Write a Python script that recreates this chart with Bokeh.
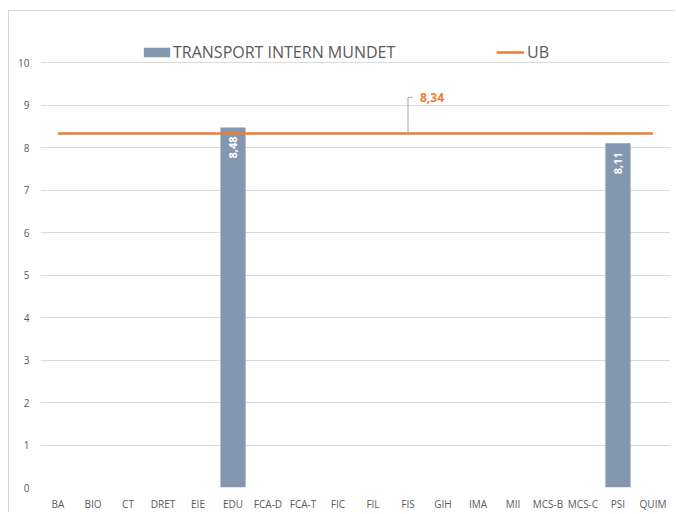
import math
from bokeh.plotting import figure
from bokeh.models import (ColumnDataSource, FactorRange, Range1d, Legend, LegendItem,
                          FixedTicker)
from bokeh.transform import dodge
from bokeh.core.properties import value
from bokeh.embed import file_html
from bokeh.resources import INLINE

# ---- data ----
categories = ["BA", "BIO", "CT", "DRET", "EIE", "EDU", "FCA-D", "FCA-T", "FIC",
              "FIL", "FIS", "GIH", "IMA", "MII", "MCS-B", "MCS-C", "PSI", "QUIM"]
transport_values = [None, None, None, None, None, 8.48, None, None, None,
                    None, None, None, None, None, None, None, 8.11, None]
ub_value = 8.34
series_bar = "TRANSPORT INTERN MUNDET"
series_line = "UB"
y_ticks = [0, 1, 2, 3, 4, 5, 6, 7, 8, 9, 10]
callout_category = "FIS"

BAR = "#8497B0"
ORANGE = "#ED7D31"
GRID = "#D9D9D9"
TXT = "#595959"
FONT = "Open Sans"

def fmt(v):
    return f"{v:.2f}".replace(".", ",")

bar_x = [c for c, v in zip(categories, transport_values) if v is not None]
bar_top = [v for v in transport_values if v is not None]
bar_src = ColumnDataSource(dict(x=bar_x, top=bar_top, label=[fmt(v) for v in bar_top]))
line_src = ColumnDataSource(dict(x=categories, y=[ub_value] * len(categories)))

# y range extends above 10 to leave room for the legend inside the frame
p = figure(x_range=FactorRange(*categories), y_range=Range1d(0, 11),
           width=667, height=502, output_backend="svg", toolbar_location=None,
           min_border_left=31, min_border_right=6, min_border_top=9, min_border_bottom=24)
p.outline_line_color = None
p.styles = {"margin-left": "8px", "margin-top": "10px",
            "border-left": "1px solid #d9d9d9", "border-top": "1px solid #d9d9d9"}

bars = p.vbar(x="x", top="top", width=0.72, source=bar_src, fill_color=BAR, line_color=None)
ubline = p.line(x="x", y="y", source=line_src, line_color=ORANGE, line_width=2.5)

# labels inside bars
p.text(x="x", y="top", text="label", source=bar_src, angle=math.pi / 2,
       text_align="right", text_baseline="middle", y_offset=9,
       text_color="white", text_font=value(FONT), text_font_style="bold",
       text_font_size="11px")

# callout for UB
lead_top = ub_value + 0.85
lead_src = ColumnDataSource(dict(x=[callout_category], y0=[ub_value], y1=[lead_top],
                                 label=[fmt(ub_value)]))
p.segment(x0="x", y0="y0", x1="x", y1="y1", source=lead_src, line_color="#A6A6A6", line_width=1)
p.segment(x0="x", y0="y1", x1=dodge("x", 0.14, range=p.x_range), y1="y1", source=lead_src,
          line_color="#A6A6A6", line_width=1)
p.text(x="x", y="y1", text="label", source=lead_src, x_offset=12,
       text_align="left", text_baseline="middle", text_color=ORANGE,
       text_font=value(FONT), text_font_style="bold", text_font_size="12px")

# axes
p.xgrid.grid_line_color = None
p.ygrid.grid_line_color = GRID
p.yaxis.ticker = FixedTicker(ticks=y_ticks)
for ax in (p.xaxis[0], p.yaxis[0]):
    ax.axis_line_color = None
    ax.major_tick_line_color = None
    ax.minor_tick_line_color = None
    ax.major_tick_out = 0
    ax.major_tick_in = 0
    ax.major_label_text_font = FONT
    ax.major_label_text_font_size = "10px"
    ax.major_label_text_color = TXT
p.yaxis.major_label_standoff = 11
p.xaxis.major_label_standoff = 9

# legends
leg1 = Legend(items=[LegendItem(label=series_bar, renderers=[bars])],
              location=(100, 424), orientation="horizontal",
              glyph_width=33, glyph_height=12, label_standoff=-2,
              label_text_font=FONT, label_text_font_size="16px", label_text_color=TXT,
              label_height=12, padding=0, margin=0, border_line_color=None,
              background_fill_alpha=0)
leg2 = Legend(items=[LegendItem(label=series_line, renderers=[ubline])],
              location=(456, 424), orientation="horizontal",
              glyph_width=28, glyph_height=12, label_standoff=3,
              label_text_font=FONT, label_text_font_size="16px", label_text_color=TXT,
              label_height=12, padding=0, margin=0, border_line_color=None,
              background_fill_alpha=0)
p.add_layout(leg1, "center")
p.add_layout(leg2, "center")

open("out.html", "w").write(file_html(p, INLINE))
